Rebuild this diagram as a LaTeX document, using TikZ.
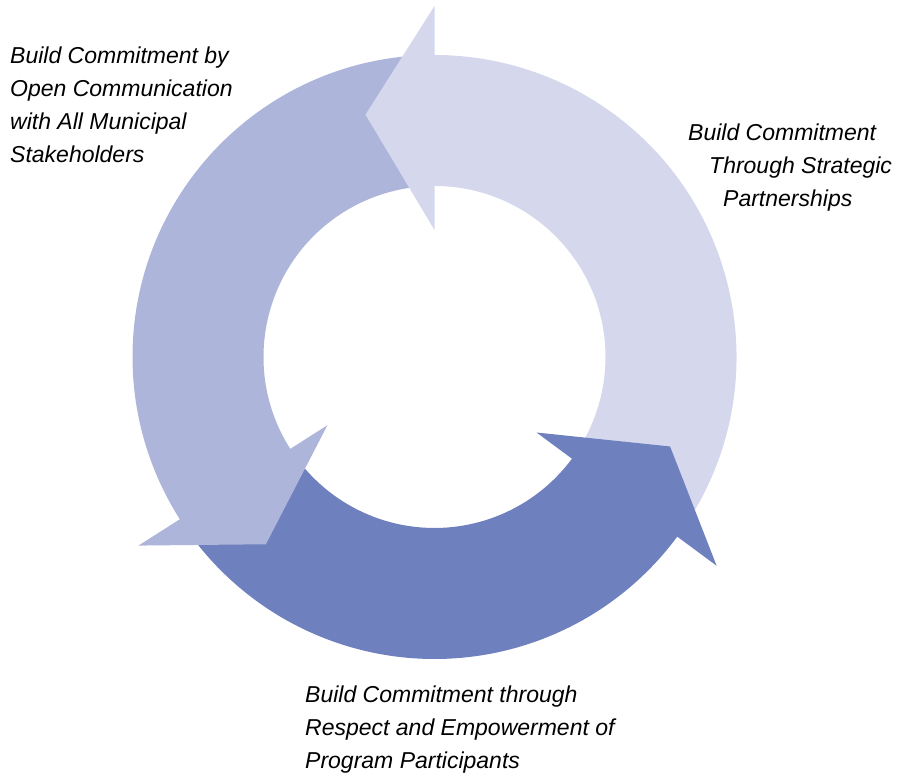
\documentclass[tikz,border=0pt]{standalone}
\usepackage{fontspec}
\setmainfont{Liberation Sans}
\definecolor{ringlight}{HTML}{D5D7EC}
\definecolor{ringmid}{HTML}{AEB5DA}
\definecolor{ringdark}{HTML}{6F80BF}
\tikzset{
  cycle text/.style={anchor=north west, inner sep=0pt, align=left,
    font=\fontsize{23}{33}\selectfont\itshape}
}

\begin{document}
\begin{tikzpicture}[x=1pt,y=1pt]
    \useasboundingbox (0,0) rectangle (905,776);
    % Centre of the ring
    \coordinate (O) at (434.5,419);

    % Shafts of the three arrows (start angle / end angle / colour)
    \foreach \s/\e/\c in {-35/91/ringlight, 91.5/213.5/ringmid, 214/324.5/ringdark}
        \fill[\c] ([shift={(\s:302pt)}]O) arc[start angle=\s, end angle=\e, radius=302pt]
            -- ([shift={(\e:171pt)}]O) arc[start angle=\e, end angle=\s, radius=171pt] -- cycle;

    % Arrow heads on top (base angle / tip angle / colour)
    \foreach \b/\t/\c in {90/105.9/ringlight, 212.5/228/ringmid, 323.5/339.2/ringdark}
        \fill[\c] ([shift={(\b:127pt)}]O) -- ([shift={(\t:252pt)}]O)
            -- ([shift={(\b:351pt)}]O) -- cycle;

    % Labels
    \node[cycle text] (open) at (10,729)
        {Build Commitment by\\Open Communication\\with All Municipal\\Stakeholders};
    \node[cycle text] (partners) at (688,652)
        {Build Commitment\\\hspace*{21pt}Through Strategic\\\hspace*{35pt}Partnerships};
    \node[cycle text] (respect) at (305,90)
        {Build Commitment through\\Respect and Empowerment of\\Program Participants};
\end{tikzpicture}
\end{document}
